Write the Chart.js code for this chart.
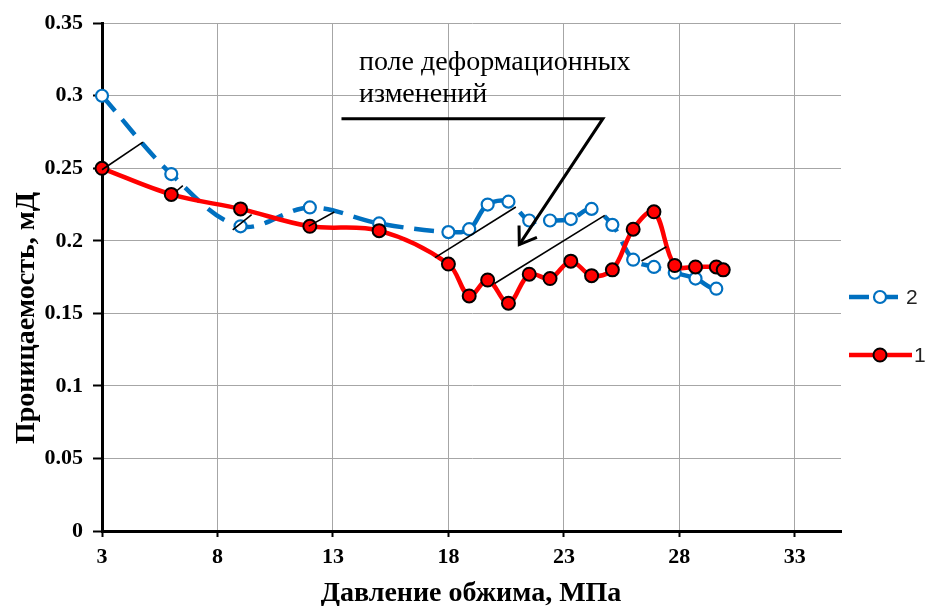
<!DOCTYPE html>
<html>
<head>
<meta charset="utf-8">
<script src="https://cdn.jsdelivr.net/npm/chart.js@4/dist/chart.umd.min.js"></script>
<style>
  html, body { margin: 0; padding: 0; background: #fff; }
  #wrap { width: 929px; height: 606px; }
</style>
</head>
<body>
<div id="wrap"><canvas id="c" width="929" height="606"></canvas></div>
<script>
// Давление обжима, МПа
const pressure = [3, 6, 9, 12, 15, 18, 18.9, 19.7, 20.6, 21.5, 22.4, 23.3, 24.2, 25.1, 26, 26.9, 27.8, 28.7, 29.6, 29.9];
// Проницаемость, мД — серия 1
const series1 = [0.250, 0.232, 0.222, 0.210, 0.207, 0.184, 0.162, 0.173, 0.157, 0.177, 0.174, 0.186, 0.176, 0.180, 0.208, 0.220, 0.183, 0.182, 0.182, 0.180];
// Проницаемость, мД — серия 2
const series2 = [0.300, 0.246, 0.210, 0.223, 0.212, 0.206, 0.208, 0.225, 0.227, 0.214, 0.214, 0.215, 0.222, 0.211, 0.187, 0.182, 0.178, 0.174, 0.167, 0.180];

const seriesNames = ['1', '2'];
const xTicks = [3, 8, 13, 18, 23, 28, 33];
const yTicks = [0, 0.05, 0.1, 0.15, 0.2, 0.25, 0.3, 0.35];
const yTickLabels = ['0', '0.05', '0.1', '0.15', '0.2', '0.25', '0.3', '0.35'];

const xTitle = 'Давление обжима, МПа';
const yTitle = 'Проницаемость, мД';
const noteLines = ['поле деформационных', 'изменений'];

// thin connector segments between the two curves (axis units)
const leaders = [
  [3.0, 0.249, 4.77, 0.268],
  [6.2, 0.234, 6.5, 0.238],
  [8.66, 0.2075, 9.48, 0.218],
  [11.95, 0.2101, 13.06, 0.2199],
  [17.42, 0.1884, 20.92, 0.2233],
  [20.0, 0.1706, 24.77, 0.2175],
  [26.36, 0.1861, 27.44, 0.1959]
];
// callout line under the note, ending in an arrow (axis units)
const pointer = [[13.37, 0.2842], [24.69, 0.2842], [21.07, 0.1974]];

const BLUE = '#0070C0';
const RED = '#FF0000';
const SERIF = '"Liberation Serif", "Times New Roman", serif';
const SANS = '"Liberation Sans", Arial, sans-serif';

const decor = {
  id: 'decor',
  afterDatasetsDraw(chart) {
    const { ctx, scales: { x, y } } = chart;
    const px = v => x.getPixelForValue(v);
    const py = v => y.getPixelForValue(v);
    ctx.save();
    ctx.strokeStyle = '#000';
    ctx.lineCap = 'butt';

    // connectors
    ctx.lineWidth = 1.6;
    leaders.forEach(([x1, y1, x2, y2]) => {
      ctx.beginPath();
      ctx.moveTo(px(x1), py(y1));
      ctx.lineTo(px(x2), py(y2));
      ctx.stroke();
    });

    // callout with arrow
    ctx.lineWidth = 3;
    ctx.lineJoin = 'miter';
    ctx.beginPath();
    pointer.forEach(([a, b], i) => i ? ctx.lineTo(px(a), py(b)) : ctx.moveTo(px(a), py(b)));
    ctx.stroke();
    const [fx, fy] = pointer[1];
    const [tx, ty] = pointer[2];
    const ang = Math.atan2(py(fy) - py(ty), px(fx) - px(tx));
    const hl = 19, spread = 0.6;
    ctx.beginPath();
    ctx.moveTo(px(tx) + hl * Math.cos(ang - spread), py(ty) + hl * Math.sin(ang - spread));
    ctx.lineTo(px(tx), py(ty));
    ctx.lineTo(px(tx) + hl * Math.cos(ang + spread), py(ty) + hl * Math.sin(ang + spread));
    ctx.stroke();

    // note text
    ctx.fillStyle = '#000';
    ctx.font = '28px ' + SERIF;
    ctx.textAlign = 'left';
    ctx.textBaseline = 'alphabetic';
    ctx.fillText(noteLines[0], 359, 70);
    ctx.fillText(noteLines[1], 359, 102);
    ctx.restore();
  },
  afterDraw(chart) {
    const { ctx } = chart;
    ctx.save();
    ctx.fillStyle = '#000';
    ctx.font = 'bold 28px ' + SERIF;
    ctx.textAlign = 'center';
    ctx.textBaseline = 'middle';
    ctx.fillText(xTitle, 471, 594);
    ctx.translate(27, 318);
    ctx.rotate(-Math.PI / 2);
    ctx.fillText(yTitle, 0, 0);
    ctx.restore();

    // legend
    ctx.save();
    const ds = chart.data.datasets;
    const rows = [
      { d: ds[1], y: 297, x0: 849, x1: 898, tx: 906 },
      { d: ds[0], y: 355, x0: 849, x1: 912, tx: 914 }
    ];
    rows.forEach(r => {
      ctx.strokeStyle = r.d.borderColor;
      ctx.lineWidth = r.d.borderWidth;
      ctx.setLineDash(r.d.borderDash || []);
      ctx.beginPath();
      ctx.moveTo(r.x0, r.y);
      ctx.lineTo(r.x1, r.y);
      ctx.stroke();
      ctx.setLineDash([]);
      ctx.beginPath();
      ctx.arc(880, r.y, r.d.pointRadius, 0, Math.PI * 2);
      ctx.fillStyle = r.d.pointBackgroundColor;
      ctx.fill();
      ctx.lineWidth = r.d.pointBorderWidth;
      ctx.strokeStyle = r.d.pointBorderColor;
      ctx.stroke();
      ctx.fillStyle = '#222';
      ctx.font = '21px ' + SANS;
      ctx.textAlign = 'left';
      ctx.textBaseline = 'middle';
      ctx.fillText(r.d.label, r.tx, r.y + 1);
    });
    ctx.restore();
  }
};

new Chart(document.getElementById('c'), {
  type: 'line',
  data: {
    datasets: [
      {
        label: seriesNames[0],
        data: pressure.map((p, i) => ({ x: p, y: series1[i] })),
        borderColor: RED,
        borderWidth: 4.5,
        tension: 0.35,
        pointRadius: 6.5,
        pointBackgroundColor: RED,
        pointBorderColor: '#000',
        pointBorderWidth: 2,
        clip: false
      },
      {
        label: seriesNames[1],
        data: pressure.map((p, i) => ({ x: p, y: series2[i] })),
        borderColor: BLUE,
        borderWidth: 4.5,
        borderDash: [20, 11],
        tension: 0.35,
        pointRadius: 6,
        pointBackgroundColor: '#fff',
        pointBorderColor: BLUE,
        pointBorderWidth: 2.2,
        clip: false
      }
    ]
  },
  options: {
    responsive: false,
    animation: false,
    devicePixelRatio: 1,
    layout: { padding: { top: 20, right: 88, bottom: 0, left: 0 } },
    plugins: { legend: { display: false }, tooltip: { enabled: false } },
    scales: {
      x: {
        type: 'linear',
        min: 3,
        max: 35,
        afterBuildTicks: s => { s.ticks = xTicks.map(v => ({ value: v })); },
        afterFit: s => { s.height = 75; },
        grid: { color: '#a6a6a6', lineWidth: 1, tickColor: '#000', tickWidth: 2, tickLength: 6 },
        border: { color: '#000', width: 3 },
        ticks: {
          color: '#000',
          font: { family: SERIF, size: 22, weight: 'bold' },
          padding: 7,
          maxRotation: 0,
          autoSkip: false
        }
      },
      y: {
        min: 0,
        max: 0.35,
        afterBuildTicks: s => { s.ticks = yTicks.map(v => ({ value: v })); },
        afterFit: s => { s.width = 102; },
        grid: { color: '#a6a6a6', lineWidth: 1, tickColor: '#000', tickWidth: 2, tickLength: 9 },
        border: { color: '#000', width: 3 },
        ticks: {
          color: '#000',
          font: { family: SERIF, size: 22, weight: 'bold' },
          padding: 10,
          callback: (v, i) => yTickLabels[i]
        }
      }
    }
  },
  plugins: [decor]
});
</script>
</body>
</html>
